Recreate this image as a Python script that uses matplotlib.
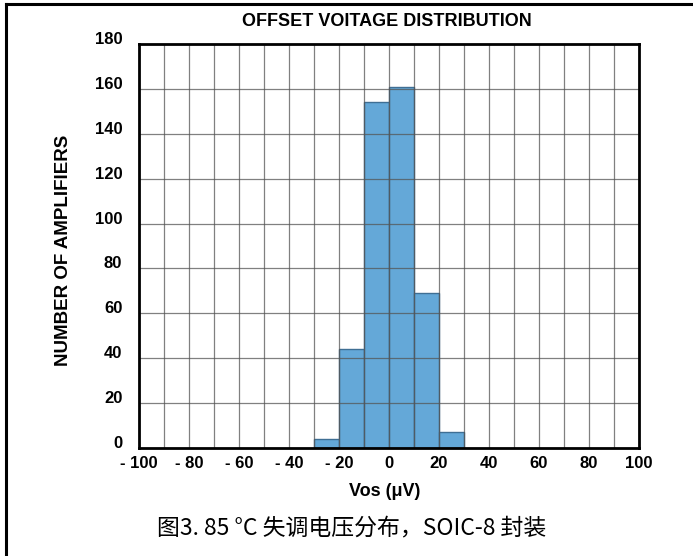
import matplotlib
matplotlib.use("Agg")
import matplotlib.pyplot as plt
import matplotlib.transforms as mtransforms
from matplotlib.lines import Line2D

# Data
bin_left = [-30, -20, -10, 0, 10, 20]
counts = [4, 44, 154, 161, 69, 7]
bin_width = 10
x_ticks = [-100, -80, -60, -40, -20, 0, 20, 40, 60, 80, 100]
y_ticks = [0, 20, 40, 60, 80, 100, 120, 140, 160, 180]
title = "OFFSET VOITAGE DISTRIBUTION"
xlabel = "Vos (μV)"
ylabel = "NUMBER OF AMPLIFIERS"
caption = "图3. 85 °C 失调电压分布，SOIC-8 封装"

bold_font = ["Liberation Sans", "DejaVu Sans"]

fig = plt.figure(figsize=(6.93, 5.56), dpi=100)
W, H = 693, 556
ax = fig.add_axes([139 / W, 1 - 448 / H, 500 / W, 404 / H])

ax.bar(bin_left, counts, width=bin_width, align="edge", color="#64a8d8",
       edgecolor="#3f6f94", linewidth=1.0, zorder=1)

ax.set_xlim(-100, 100)
ax.set_ylim(0, 180)
ax.set_xticks(range(-100, 101, 10))
ax.set_yticks(y_ticks)
ax.grid(True, which="major", color="#555555", linewidth=0.9, alpha=0.75, zorder=2)
ax.set_axisbelow(False)

xl = [(f"- {abs(v)}" if v < 0 else f"{v}") if v in x_ticks else "" for v in range(-100, 101, 10)]
ax.set_xticklabels(xl)
ax.set_yticklabels([str(v) for v in y_ticks])
ax.tick_params(length=0, pad=5)
for lab in ax.get_xticklabels() + ax.get_yticklabels():
    lab.set_fontfamily(bold_font)
    lab.set_fontweight("bold")
    lab.set_fontsize(12)
ax.tick_params(axis="x", pad=6)
ax.tick_params(axis="y", pad=12)
off = mtransforms.ScaledTranslation(0, 6 / 100, fig.dpi_scale_trans)
for t in ax.yaxis.get_major_ticks():
    t.label1.set_transform(t.label1.get_transform() + off)

for s in ax.spines.values():
    s.set_linewidth(2.0)
    s.set_color("black")
    s.set_zorder(3)

fig.text(387 / W, 1 - 22 / H, title, ha="center", va="center",
         fontfamily=bold_font, fontweight="bold", fontsize=13)
fig.text(385 / W, 1 - 492 / H, xlabel, ha="center", va="center",
         fontfamily=bold_font, fontweight="bold", fontsize=13)
fig.text(64 / W, 1 - 250 / H, ylabel, ha="center", va="center", rotation=90,
         fontfamily=bold_font, fontweight="bold", fontsize=13.5)
fig.text(352 / W, 1 - 528 / H, caption, ha="center", va="center",
         fontfamily=["Noto Sans CJK SC", "DejaVu Sans"], fontweight="light", fontsize=16.5)

# outer frame (left and top edges only)
fig.add_artist(Line2D([5.5 / W, 5.5 / W], [0, 1 - 4 / H], transform=fig.transFigure,
                      color="black", linewidth=2.2, solid_capstyle="projecting"))
fig.add_artist(Line2D([5.5 / W, 1], [1 - 4 / H, 1 - 4 / H], transform=fig.transFigure,
                      color="black", linewidth=2.2, solid_capstyle="projecting"))

fig.savefig("out.png", dpi=100)
